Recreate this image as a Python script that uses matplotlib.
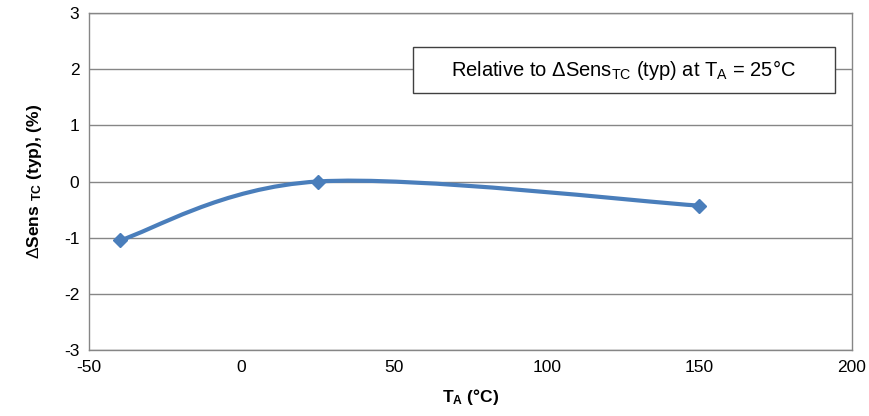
import matplotlib
matplotlib.use('Agg')
import matplotlib.pyplot as plt
import numpy as np
from matplotlib.path import Path
from matplotlib.patches import PathPatch, Rectangle

plt.rcParams['font.family'] = ['Liberation Sans', 'DejaVu Sans']
plt.rcParams['axes.unicode_minus'] = False
plt.rcParams['mathtext.fontset'] = 'custom'
plt.rcParams['mathtext.rm'] = 'Liberation Sans'
plt.rcParams['mathtext.it'] = 'Liberation Sans'
plt.rcParams['mathtext.bf'] = 'Liberation Sans:bold'

temps = [-40, 25, 150]
delta_sens = [-1.05, 0.0, -0.43]
x_ticks = [-50, 0, 50, 100, 150, 200]
y_ticks = [-3, -2, -1, 0, 1, 2, 3]

line_color = '#4a7ebb'
grid_color = '#868686'


def smooth_path(xs, ys):
    # Excel style smoothed line: cubic bezier with 1/6 tangents
    pts = np.column_stack([xs, ys]).astype(float)
    n = len(pts)
    verts = [pts[0]]
    codes = [Path.MOVETO]
    for i in range(n - 1):
        p0 = pts[i - 1] if i > 0 else pts[i]
        p1 = pts[i]
        p2 = pts[i + 1]
        p3 = pts[i + 2] if i + 2 < n else pts[i + 1]
        c1 = p1 + (p2 - p0) / 6.0
        c2 = p2 - (p3 - p1) / 6.0
        verts += [c1, c2, p2]
        codes += [Path.CURVE4] * 3
    return Path(verts, codes)


fig = plt.figure(figsize=(8.69, 4.16), dpi=100)
ax = fig.add_axes([0.1024, 0.1587, 0.878, 0.81])

ax.set_xlim(x_ticks[0], x_ticks[-1])
ax.set_ylim(y_ticks[0], y_ticks[-1])
ax.set_xticks(x_ticks)
ax.set_yticks(y_ticks)
ax.tick_params(length=0, labelsize=12.5, pad=7)
ax.yaxis.grid(True, color=grid_color, linewidth=1)
ax.set_axisbelow(True)
for s in ax.spines.values():
    s.set_color(grid_color)
    s.set_linewidth(1)

ax.add_patch(PathPatch(smooth_path(temps, delta_sens), facecolor='none',
                       edgecolor=line_color, linewidth=3, capstyle='round',
                       zorder=3))
ax.plot(temps, delta_sens, linestyle='none', marker='D', markersize=7,
        color=line_color, zorder=4)

ax.add_patch(Rectangle((0.4246, 0.7626), 0.553, 0.1365, transform=ax.transAxes,
                       facecolor='white', edgecolor='#404040', linewidth=1,
                       zorder=5))
ax.text(0.7, 0.832, r'Relative to $\Delta$Sens$_{\mathrm{TC}}$ (typ) at T$_{\mathrm{A}}$ = 25°C',
        transform=ax.transAxes, ha='center', va='center', fontsize=14.5,
        zorder=6)

ax.set_xlabel(r'T$_{\mathbf{A}}$ (°C)', fontsize=12.5, fontweight='bold',
              labelpad=9)
ax.set_ylabel(r'$\Delta$Sens $_{\mathbf{TC}}$ (typ), (%)', fontsize=12.5,
              fontweight='bold', labelpad=14)

plt.savefig('out.png', dpi=100)
